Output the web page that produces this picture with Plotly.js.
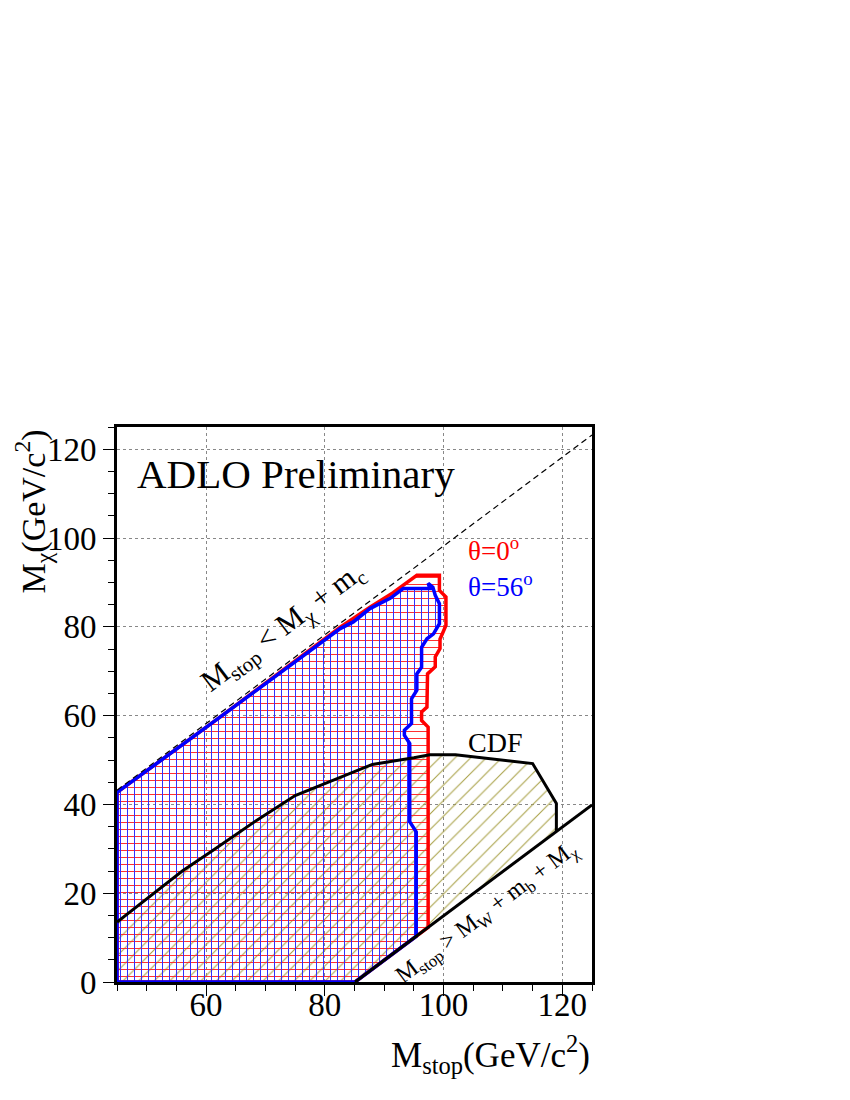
<!DOCTYPE html>
<html>
<head>
<meta charset="utf-8">
<script src="https://cdn.plot.ly/plotly-3.0.1.min.js"></script>
<style>html,body{margin:0;padding:0;background:#fff;}</style>
</head>
<body>
<div id="chart" style="width:850px;height:1100px;"></div>
<script>
// theta = 0 deg excluded region (red)
const redX = [45, 45, 62, 82.6, 87.6, 91.5, 95.5, 99.3, 99.3, 100.4, 100.4, 99.4, 99.4, 98.6, 98.6, 97.3, 97.2, 96.3, 96.3, 97.4, 97.4, 85.1, 45];
const redY = [0, 42.7, 59.3, 79.9, 84.4, 87.7, 91.6, 91.6, 88.2, 86.7, 80.3, 77.2, 75.1, 73.2, 71.0, 69.4, 61.9, 60.8, 58.9, 57.4, 12.3, 0, 0];
// theta = 56 deg excluded region (blue)
const blueX = [45, 45, 62, 82.6, 84.8, 87.6, 91.0, 93.2, 97.7, 97.4, 98.2, 98.6, 99.3, 99.3, 98.3, 97.2, 96.3, 96.3, 95.5, 95.5, 94.6, 94.6, 93.4, 93.4, 94.3, 94.3, 95.4, 95.4, 85.1, 45];
const blueY = [0, 42.7, 59.3, 79.6, 81.1, 84.1, 86.4, 88.6, 88.6, 89.8, 88.9, 87.1, 85.2, 80.7, 78.4, 77.3, 75.4, 70.9, 69.4, 65.7, 63.8, 58.2, 56.7, 55.6, 53.7, 36.1, 33.8, 10.3, 0, 0];
// CDF excluded region
const cdfX = [45, 56, 61, 68.5, 75, 80, 88, 95, 97.7, 102, 115, 119, 119];
const cdfY = [13.5, 25, 29.5, 36.4, 42, 44.7, 49, 50.5, 51.2, 51.2, 49.2, 40.2, 34];
const cdfCloseX = [85.1, 45, 45];
const cdfCloseY = [0, 0, 13.5];
// kinematic limits
const kinWX = [85.1, 125];
const kinWY = [0, 39.9];
const kinCX = [45, 125];
const kinCY = [43.2, 123.2];
// axis ticks
const xTicks = [60, 80, 100, 120];
const xTickText = ['60', '80', '100', '120'];
const yTicks = [0, 20, 40, 60, 80, 100, 120];
const yTickText = ['0', '20', '40', '60', '80', '100', '120'];

const serif = 'Liberation Serif, Times New Roman, serif';
const clear = 'rgba(0,0,0,0)';

const traces = [
  {x: cdfX.concat(cdfCloseX), y: cdfY.concat(cdfCloseY), mode: 'lines', fill: 'toself', fillcolor: clear,
   fillpattern: {shape: '/', fgcolor: '#aaa24a', bgcolor: clear, size: 11, solidity: 0.1},
   line: {width: 0}, hoverinfo: 'skip'},
  {x: redX, y: redY, mode: 'lines', fill: 'toself', fillcolor: clear,
   fillpattern: {shape: '-', fgcolor: '#ff3030', bgcolor: clear, size: 7, solidity: 0.15},
   line: {width: 0}, hoverinfo: 'skip'},
  {x: blueX, y: blueY, mode: 'lines', fill: 'toself', fillcolor: clear,
   fillpattern: {shape: '|', fgcolor: '#3030ff', bgcolor: clear, size: 7, solidity: 0.15},
   line: {width: 0}, hoverinfo: 'skip'},
  {x: redX, y: redY, mode: 'lines', line: {color: '#ff0000', width: 3.5}, hoverinfo: 'skip'},
  {x: blueX, y: blueY, mode: 'lines', line: {color: '#0000ff', width: 3.5}, hoverinfo: 'skip'},
  {x: cdfX, y: cdfY, mode: 'lines', line: {color: '#000', width: 3}, hoverinfo: 'skip'},
  {x: kinWX, y: kinWY, mode: 'lines', line: {color: '#000', width: 3}, hoverinfo: 'skip'},
  {x: kinCX, y: kinCY, mode: 'lines', line: {color: '#000', width: 1.2, dash: '6px,4px'}, hoverinfo: 'skip'},
  {x: [], y: [], xaxis: 'x2', yaxis: 'y', mode: 'lines', hoverinfo: 'skip'}
];

const axisCommon = {
  showline: true, linecolor: '#000', linewidth: 3, mirror: true,
  ticks: 'outside', ticklen: 11, tickwidth: 1, tickcolor: '#000',
  showgrid: true, gridcolor: '#888', griddash: 'dot', gridwidth: 1,
  zeroline: false,
  tickfont: {family: serif, size: 33, color: '#000'},
  minor: {ticks: 'outside', ticklen: 6, tickwidth: 1, tickcolor: '#000', dtick: 5, showgrid: false}
};

const layout = {
  width: 850, height: 1100,
  margin: {l: 117, r: 258, t: 427, b: 118},
  paper_bgcolor: '#fff', plot_bgcolor: '#fff',
  showlegend: false,
  xaxis: Object.assign({}, axisCommon, {range: [45, 125], tickvals: xTicks, ticktext: xTickText, showticklabels: false}),
  xaxis2: {overlaying: 'x', anchor: 'y', side: 'bottom', range: [45, 125], tickmode: 'array', tickvals: xTicks, ticktext: xTickText,
           showline: false, showgrid: false, zeroline: false, ticks: '', ticklabelstandoff: 0,
           tickfont: {family: serif, size: 33, color: '#000'}},
  yaxis: Object.assign({}, axisCommon, {range: [0, 125], tickvals: yTicks, ticktext: yTickText}),
  annotations: [
    {text: 'ADLO Preliminary', x: 48.0, y: 114.5, xref: 'x', yref: 'y', xanchor: 'left', yanchor: 'middle', showarrow: false,
     font: {family: serif, size: 41, color: '#000'}},
    {text: 'θ=0<sup>o</sup>', x: 103.8, y: 97.5, xref: 'x', yref: 'y', xanchor: 'left', yanchor: 'middle', showarrow: false,
     font: {family: serif, size: 27, color: '#ff0000'}},
    {text: 'θ=56<sup>o</sup>', x: 103.8, y: 89.5, xref: 'x', yref: 'y', xanchor: 'left', yanchor: 'middle', showarrow: false,
     font: {family: serif, size: 27, color: '#0000ff'}},
    {text: 'CDF', x: 103.8, y: 54, xref: 'x', yref: 'y', xanchor: 'left', yanchor: 'middle', showarrow: false,
     font: {family: serif, size: 28, color: '#000'}},
    {text: 'M<sub>stop</sub> &lt; M<sub>χ</sub> + m<sub>c</sub>', x: 73.0, y: 79.8, xref: 'x', yref: 'y', textangle: -37, showarrow: false,
     font: {family: serif, size: 30, color: '#000'}},
    {text: 'M<sub>stop</sub> &gt; M<sub>W</sub> + m<sub>b</sub> + M<sub>χ</sub>', x: 107.3, y: 15.6, xref: 'x', yref: 'y', textangle: -37, showarrow: false,
     font: {family: serif, size: 24, color: '#000'}},
    {text: 'M<sub>stop</sub>(GeV/c<sup>2</sup>)', x: 1.0, y: -0.13, xref: 'paper', yref: 'paper', xanchor: 'right', yanchor: 'middle', showarrow: false,
     font: {family: serif, size: 35, color: '#000'}},
    {text: 'M<sub>χ</sub>(GeV/c<sup>2</sup>)', x: -0.178, y: 1.0, xref: 'paper', yref: 'paper', xanchor: 'center', yanchor: 'top', textangle: -90, showarrow: false,
     font: {family: serif, size: 34, color: '#000'}}
  ]
};

Plotly.newPlot('chart', traces, layout, {staticPlot: true, displayModeBar: false});
</script>
</body>
</html>
